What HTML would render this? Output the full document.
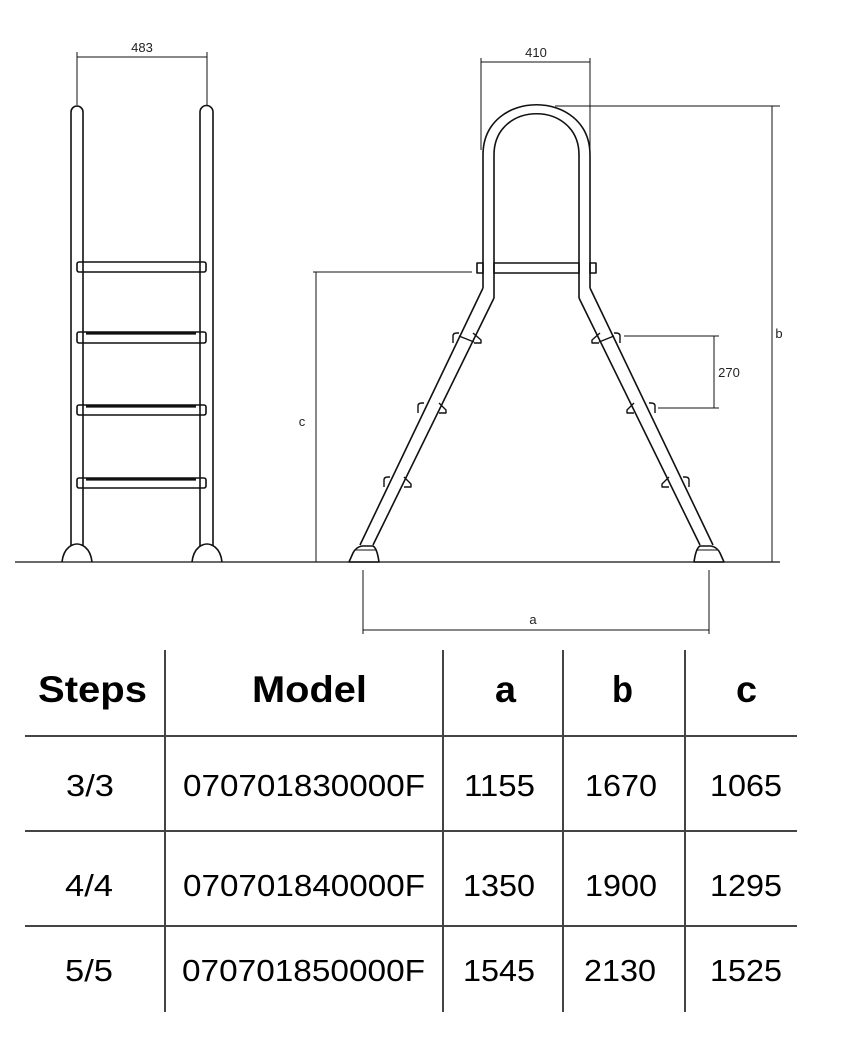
<!DOCTYPE html>
<html><head><meta charset="utf-8"><style>
html,body{margin:0;padding:0;background:#fff;}
svg{display:block;}
</style></head><body>
<svg width="865" height="1044" viewBox="0 0 865 1044" xmlns="http://www.w3.org/2000/svg">
<g fill="none" stroke="#111" stroke-width="1.6" stroke-linejoin="round">
  <line x1="15" y1="562" x2="780" y2="562" stroke-width="1.3"/>
  <!-- LEFT LADDER -->
  <path d="M71,546 V112 A6,6 0 0 1 83,112 V546"/>
  <path d="M200,546 V112 A6.5,6.5 0 0 1 213,112 V546"/>
  <rect x="77" y="262" width="129" height="10" rx="2"/>
  <rect x="77" y="332" width="129" height="11" rx="2"/>
  <rect x="77" y="405" width="129" height="10" rx="2"/>
  <rect x="77" y="478" width="129" height="10" rx="2"/>
  <line x1="86" y1="333.5" x2="196" y2="333.5" stroke-width="2.2"/>
  <line x1="86" y1="406.5" x2="196" y2="406.5" stroke-width="2.2"/>
  <line x1="86" y1="479.5" x2="196" y2="479.5" stroke-width="2.2"/>
  <path d="M62,562 Q63,552 69,547 Q73,544 77,544 Q81,544 85,547 Q91,552 92,562"/>
  <path d="M192,562 Q193,552 199,547 Q203,544 207,544 Q211,544 215,547 Q221,552 222,562"/>
  <g stroke-width="1">
    <line x1="77" y1="57" x2="207" y2="57"/>
    <line x1="77" y1="52" x2="77" y2="105"/>
    <line x1="207" y1="52" x2="207" y2="105"/>
  </g>
  <!-- SIDE VIEW -->
  <path d="M483,288 V155 C483,88 590,88 590,155 V288"/>
  <path d="M494,298 V155 C494,100 579,100 579,155 V298"/>
  <path d="M483,288 L360,545"/>
  <path d="M494,298 L373,545"/>
  <path d="M590,288 L713,545"/>
  <path d="M579,298 L700,545"/>
  <rect x="494" y="263" width="85" height="10"/>
  <rect x="477" y="263" width="6" height="10"/>
  <rect x="590" y="263" width="6" height="10"/>
  <!-- brackets left leg -->
  <g stroke-width="1.4">
    <path d="M453,343 V336 Q453,333 457,333 H459"/>
    <path d="M473,333 L481,340 V343 H474"/>
    <path d="M418,413 V406 Q418,403 422,403 H424"/>
    <path d="M439,403 L446,410 V413 H439"/>
    <path d="M384,487 V480 Q384,477 388,477 H390"/>
    <path d="M404,477 L411,484 V487 H404"/>
    <line x1="459" y1="336" x2="474" y2="342"/>
    <!-- right leg -->
    <path d="M620,343 V336 Q620,333 616,333 H614"/>
    <path d="M600,333 L592,340 V343 H599"/>
    <path d="M655,413 V406 Q655,403 651,403 H649"/>
    <path d="M634,403 L627,410 V413 H634"/>
    <path d="M689,487 V480 Q689,477 685,477 H683"/>
    <path d="M669,477 L662,484 V487 H669"/>
    <line x1="614" y1="336" x2="599" y2="342"/>
  </g>
  <!-- feet -->
  <path d="M349,562 L353,553 Q356,547 362,546 H373 Q377,548 379,562 Z"/>
  <path d="M724,562 L720,553 Q717,547 711,546 H700 Q696,548 694,562 Z"/>
  <path d="M355,550 H377 M696,550 H718" stroke-width="1"/>
  <g stroke-width="1">
    <line x1="481" y1="62" x2="590" y2="62"/>
    <line x1="481" y1="58" x2="481" y2="150"/>
    <line x1="590" y1="58" x2="590" y2="150"/>
    <line x1="555" y1="106" x2="780" y2="106"/>
    <line x1="772" y1="106" x2="772" y2="562"/>
    <line x1="313" y1="272" x2="472" y2="272"/>
    <line x1="316" y1="272" x2="316" y2="562"/>
    <line x1="624" y1="336" x2="719" y2="336"/>
    <line x1="658" y1="408" x2="719" y2="408"/>
    <line x1="714" y1="336" x2="714" y2="408"/>
    <line x1="363" y1="570" x2="363" y2="634"/>
    <line x1="709" y1="570" x2="709" y2="634"/>
    <line x1="363" y1="630" x2="709" y2="630"/>
  </g>
  <!-- TABLE -->
  <g stroke="#444" stroke-width="2">
    <line x1="165" y1="650" x2="165" y2="1012"/>
    <line x1="443" y1="650" x2="443" y2="1012"/>
    <line x1="563" y1="650" x2="563" y2="1012"/>
    <line x1="685" y1="650" x2="685" y2="1012"/>
    <line x1="25" y1="736" x2="797" y2="736"/>
    <line x1="25" y1="831" x2="797" y2="831"/>
    <line x1="25" y1="926" x2="797" y2="926"/>
  </g>
</g>
<g font-family="Liberation Sans, sans-serif" fill="#222" text-anchor="middle">
  <text x="142" y="52" font-size="13">483</text>
  <text x="536" y="57" font-size="13">410</text>
  <text x="779" y="338" font-size="13">b</text>
  <text x="302" y="426" font-size="13">c</text>
  <text x="729" y="377" font-size="13">270</text>
  <text x="533" y="624" font-size="13">a</text>
</g>
<g font-family="Liberation Sans, sans-serif" fill="#000">
  <g font-weight="bold" font-size="37">
    <text x="38" y="702" textLength="109" lengthAdjust="spacingAndGlyphs">Steps</text>
    <text x="252" y="702" textLength="115" lengthAdjust="spacingAndGlyphs">Model</text>
    <text x="495" y="702" textLength="21" lengthAdjust="spacingAndGlyphs">a</text>
    <text x="612" y="702" textLength="21" lengthAdjust="spacingAndGlyphs">b</text>
    <text x="736" y="702" textLength="21" lengthAdjust="spacingAndGlyphs">c</text>
  </g>
  <g font-size="31">
    <text x="66" y="796" textLength="48" lengthAdjust="spacingAndGlyphs">3/3</text>
    <text x="183" y="796" textLength="242" lengthAdjust="spacingAndGlyphs">070701830000F</text>
    <text x="464" y="796" textLength="71" lengthAdjust="spacingAndGlyphs">1155</text>
    <text x="585" y="796" textLength="72" lengthAdjust="spacingAndGlyphs">1670</text>
    <text x="710" y="796" textLength="72" lengthAdjust="spacingAndGlyphs">1065</text>
    <text x="65" y="896" textLength="48" lengthAdjust="spacingAndGlyphs">4/4</text>
    <text x="183" y="896" textLength="242" lengthAdjust="spacingAndGlyphs">070701840000F</text>
    <text x="463" y="896" textLength="72" lengthAdjust="spacingAndGlyphs">1350</text>
    <text x="585" y="896" textLength="72" lengthAdjust="spacingAndGlyphs">1900</text>
    <text x="710" y="896" textLength="72" lengthAdjust="spacingAndGlyphs">1295</text>
    <text x="65" y="981" textLength="48" lengthAdjust="spacingAndGlyphs">5/5</text>
    <text x="182" y="981" textLength="243" lengthAdjust="spacingAndGlyphs">070701850000F</text>
    <text x="463" y="981" textLength="72" lengthAdjust="spacingAndGlyphs">1545</text>
    <text x="584" y="981" textLength="72" lengthAdjust="spacingAndGlyphs">2130</text>
    <text x="710" y="981" textLength="72" lengthAdjust="spacingAndGlyphs">1525</text>
  </g>
</g>
</svg>
</body></html>
